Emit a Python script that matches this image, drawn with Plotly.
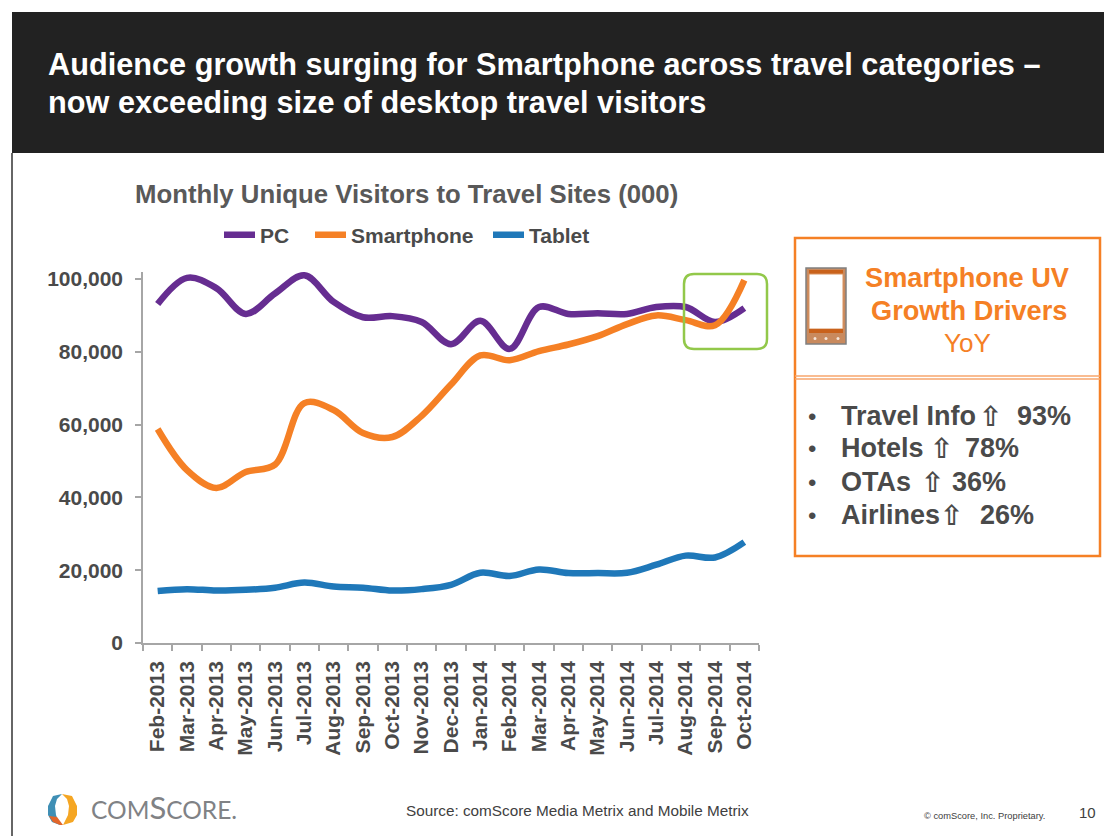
import plotly.graph_objects as go

months = ["Feb-2013","Mar-2013","Apr-2013","May-2013","Jun-2013","Jul-2013","Aug-2013","Sep-2013","Oct-2013","Nov-2013","Dec-2013",
          "Jan-2014","Feb-2014","Mar-2014","Apr-2014","May-2014","Jun-2014","Jul-2014","Aug-2014","Sep-2014","Oct-2014"]
pc = [93100,100300,97500,90400,96000,101000,93700,89500,89800,88200,82100,88500,80800,92300,90400,90600,90400,92300,92300,88200,92000]
smartphone = [58800,47500,42600,47000,49000,65900,64000,57700,56600,62400,71000,79000,77700,80200,82000,84300,87600,90000,88700,87300,99700]
tablet = [14300,14800,14400,14600,15200,16600,15500,15200,14400,14800,16000,19300,18400,20200,19200,19200,19300,21500,24000,23500,27700]
y_ticks = [0,20000,40000,60000,80000,100000]
y_labels = ["0","20,000","40,000","60,000","80,000","100,000"]

L, R, T, B = 143, 759, 272, 643
W, H = 1104, 836
def px(x): return (x - L) / (R - L)
def py(y): return (B - y) / (B - T)

FONT = "Liberation Sans"
GRAY = "#4a4a4a"
ORANGE = "#f58025"

fig = go.Figure()
for name, vals, col, lw in [("PC", pc, "#662d91", 45), ("Smartphone", smartphone, ORANGE, 132), ("Tablet", tablet, "#1f78b9", None)]:
    fig.add_trace(go.Scatter(x=months, y=vals, name=name, mode="lines", legendwidth=lw,
                             line=dict(color=col, width=6.5, shape="spline", smoothing=1.0), hoverinfo="skip"))

shapes, annos = [], []
def rect(x0, y0, x1, y1, fill=None, line=None, lw=0, layer="above"):
    shapes.append(dict(type="rect", xref="paper", yref="paper", x0=px(x0), x1=px(x1), y0=py(y0), y1=py(y1),
                       fillcolor=fill or "rgba(0,0,0,0)", line=dict(color=line or "rgba(0,0,0,0)", width=lw), layer=layer))
def path(d_pts, fill=None, line=None, lw=0):
    d = "M" + " L".join(f"{px(a):.5f} {py(b):.5f}" for a, b in d_pts) + " Z"
    shapes.append(dict(type="path", xref="paper", yref="paper", path=d, fillcolor=fill or "rgba(0,0,0,0)",
                       line=dict(color=line or "rgba(0,0,0,0)", width=lw), layer="above"))
def text(x, y, s, size, color=GRAY, bold=False, anchor="left", family=FONT):
    annos.append(dict(xref="paper", yref="paper", x=px(x), y=py(y), text=f"<b>{s}</b>" if bold else s, showarrow=False,
                      xanchor=anchor, yanchor="middle", align=anchor, borderpad=0, borderwidth=0,
                      font=dict(family=family, size=size, color=color)))

# header and slide edge
rect(12, 12, 1104, 153, fill="#222222")
shapes.append(dict(type="line", xref="paper", yref="paper", x0=px(12), x1=px(12), y0=py(153), y1=py(836),
                   line=dict(color="#333333", width=1.5)))
text(48, 65, "Audience growth surging for Smartphone across travel categories –", 30.7, "#ffffff", True)
text(48, 103, "now exceeding size of desktop travel visitors", 30.7, "#ffffff", True)
text(406.5, 194, "Monthly Unique Visitors to Travel Sites (000)", 25.75, "#595959", True, "center")

# highlight box
shapes.append(dict(type="path", xref="paper", yref="paper", layer="above", line=dict(color="#92c84a", width=2.5),
    path=f"M{px(694)} {py(274)} L{px(757)} {py(274)} Q{px(767)} {py(274)} {px(767)} {py(284)} L{px(767)} {py(339)} "
         f"Q{px(767)} {py(349)} {px(757)} {py(349)} L{px(694)} {py(349)} Q{px(684)} {py(349)} {px(684)} {py(339)} "
         f"L{px(684)} {py(284)} Q{px(684)} {py(274)} {px(694)} {py(274)} Z"))

# side panel
rect(795, 238, 1100, 556, line=ORANGE, lw=2.5)
shapes.append(dict(type="line", xref="paper", yref="paper", x0=px(795), x1=px(1100), y0=py(376), y1=py(376), line=dict(color="#f7a66c", width=1.5)))
shapes.append(dict(type="line", xref="paper", yref="paper", x0=px(795), x1=px(1100), y0=py(379), y1=py(379), line=dict(color="#f7a66c", width=1.5)))
text(967, 277, "Smartphone UV", 27.2, ORANGE, True, "center")
text(969, 310, "Growth Drivers", 27.2, ORANGE, True, "center")
text(968, 343, "YoY", 26, ORANGE, False, "center")

# phone icon
rect(806, 268, 846, 344, fill="#c98a5e", line="#808080", lw=1.5)
rect(809, 270, 843, 274, fill="#c9621c")
rect(809, 274, 843, 329, fill="#ffffff", line="#d9925e", lw=1)
rect(809, 329, 843, 333, fill="#c9621c")
for cx in (815, 826, 838):
    shapes.append(dict(type="circle", xref="paper", yref="paper", x0=px(cx-1.5), x1=px(cx+1.5), y0=py(340), y1=py(337),
                       fillcolor="#f5e6da", line=dict(width=0), layer="above"))

# bullets
rows = [("Travel Info", 990, 416, 1017, "93%"), ("Hotels", 941, 448, 965, "78%"),
        ("OTAs", 932, 482, 952, "36%"), ("Airlines", 951, 515, 980, "26%")]
for label, ax, y, vx, val in rows:
    text(808, y, "•", 24, GRAY, False)
    text(841, y, label, 27, GRAY, True)
    text(ax, y, "⇧", 28, GRAY, True, "center", family="DejaVu Sans")
    text(vx, y, val, 27, GRAY, True)

# logo
path([(62,794),(53,796),(48,806),(48,815),(52,822),(60,825),(56,815),(55,806),(57,799)], fill="#3f8fb5")
path([(62,794),(72,796),(77,806),(77,815),(73,822),(63,825),(68,815),(69,806),(67,799)], fill="#f5a623")
path([(49,816),(53,822),(60,825),(63,825),(57,817)], fill="#e2662a")
text(91, 807, '<span style="font-size:24.5px">COM</span>S<span style="font-size:24.5px">CORE.</span>', 31, "#808285", False, family="Lato")
text(406, 810, "Source: comScore Media Metrix and Mobile Metrix", 15.3, "#404040")
text(924, 816, "© comScore, Inc. Proprietary.", 9.3, "#404040")
text(1079, 812, "10", 15, "#404040")

fig.update_layout(
    width=W, height=H, autosize=False,
    margin=dict(l=L, r=W-R, t=T, b=H-B, pad=0),
    paper_bgcolor="#ffffff", plot_bgcolor="#ffffff",
    font=dict(family=FONT, color=GRAY),
    shapes=shapes, annotations=annos,
    legend=dict(orientation="h", x=px(219), y=py(235), xanchor="left", yanchor="middle",
                font=dict(family=FONT, size=21, color=GRAY, weight=700), bgcolor="rgba(0,0,0,0)",
                itemwidth=31, tracegroupgap=0, traceorder="normal"),
    xaxis=dict(type="category", categoryorder="array", categoryarray=months, range=[-0.5, 20.5], tickson="boundaries",
               tickangle=-90, ticks="outside", ticklen=6, tickcolor="#a6a6a6", tickwidth=1.5, showgrid=False, zeroline=False,
               showline=True, linecolor="#a6a6a6", linewidth=1.5, ticklabelstandoff=8,
               tickfont=dict(family=FONT, size=21, color=GRAY, weight=700), automargin=False),
    yaxis=dict(range=[0, (B-T)/3.64*1000], tickvals=y_ticks, ticktext=y_labels, ticks="outside", ticklen=6,
               tickcolor="#a6a6a6", tickwidth=1.5, showgrid=False, zeroline=False, showline=True, linecolor="#a6a6a6", linewidth=1.5,
               ticklabelstandoff=8,
               tickfont=dict(family=FONT, size=21, color=GRAY, weight=700), automargin=False),
    showlegend=True,
)
fig.write_html("out.html", config=dict(displayModeBar=False), post_script="document.body.style.margin='0';")
